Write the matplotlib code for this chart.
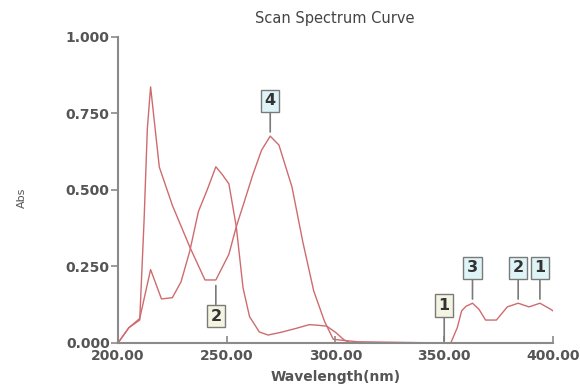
import matplotlib.pyplot as plt

# curve 1 (tall peak at 215 nm, labelled peaks/valleys)
wl_a = [200, 205, 210, 212, 213.5, 215, 219, 225, 233, 240, 245, 251, 254.4, 258, 262, 266, 270,
        274, 280, 285, 290, 295, 299, 310, 330, 350, 353, 356, 358, 360, 363, 366, 369, 374,
        379, 384, 389, 394, 399, 400]
abs_a = [0.0, 0.05, 0.075, 0.40, 0.70, 0.837, 0.575, 0.45, 0.314, 0.206, 0.206, 0.29, 0.38, 0.46,
         0.55, 0.63, 0.676, 0.647, 0.51, 0.33, 0.17, 0.07, 0.012, 0.004, 0.002, 0.0, 0.0, 0.05,
         0.105, 0.12, 0.13, 0.11, 0.075, 0.075, 0.118, 0.13, 0.118, 0.13, 0.11, 0.105]

# curve 2 (peak at 245 nm)
wl_b = [200, 205, 210, 215, 220, 225, 229, 233, 237, 241, 245, 248, 251, 254.4, 257.5, 260.5,
        265, 269, 275, 282, 288, 292, 296, 300, 304, 307, 320, 400]
abs_b = [0.0, 0.05, 0.08, 0.24, 0.144, 0.148, 0.2, 0.30, 0.43, 0.50, 0.576, 0.55, 0.52, 0.38,
         0.18, 0.086, 0.036, 0.026, 0.035, 0.048, 0.06, 0.058, 0.055, 0.035, 0.01, 0.0, 0.0, 0.0]

# peak / valley picks: (label, wavelength, abs)
peaks = [("4", 270, 0.676), ("3", 363, 0.13), ("2", 384, 0.13), ("1", 394, 0.13)]
valleys = [("2", 245, 0.206), ("1", 350, 0.0)]

yticks = [0.0, 0.25, 0.5, 0.75, 1.0]
xticks = [200, 250, 300, 350, 400]

line_col = "#cf6b6e"
axis_col = "#8a8a8a"
text_col = "#555555"

fig = plt.figure(figsize=(5.8, 3.87), dpi=100)
ax = fig.add_axes([0.2034, 0.1137, 0.75, 0.7907])

ax.plot(wl_a, abs_a, color=line_col, lw=1.0)
ax.plot(wl_b, abs_b, color=line_col, lw=1.0)

ax.set_xlim(200, 400)
ax.set_ylim(0, 1.0)
ax.set_xticks(xticks)
ax.set_xticklabels([f"{v:.2f}" for v in xticks])
ax.set_yticks(yticks)
ax.set_yticklabels([f"{v:.3f}" for v in yticks])

for side in ("top", "right"):
    ax.spines[side].set_visible(False)
for side in ("left", "bottom"):
    ax.spines[side].set_color(axis_col)
    ax.spines[side].set_linewidth(1.5)

ax.tick_params(axis="y", direction="out", length=5, width=1.2, color=axis_col,
               labelsize=10, labelcolor=text_col, pad=1)
ax.tick_params(axis="x", direction="in", length=5, width=1.2, color=axis_col,
               labelsize=10, labelcolor=text_col, pad=4)
for lbl in ax.get_xticklabels() + ax.get_yticklabels():
    lbl.set_fontweight("bold")


def pick_label(lab, x, y, dy, fc, gap):
    ax.annotate(lab, xy=(x, y), xytext=(0, dy), textcoords="offset points",
                ha="center", va="center", fontsize=11.5, fontweight="bold", color="#333333",
                bbox=dict(boxstyle="square,pad=0.22", fc=fc, ec="#7a7a7a", lw=1),
                arrowprops=dict(arrowstyle="-", color="#7a7a7a", lw=1.2, shrinkA=0, shrinkB=gap),
                annotation_clip=False)


for lab, x, y in peaks:
    pick_label(lab, x, y, 25.5, "#dff4f7", 3)
for lab, x, y in valleys:
    # a valley sitting on the baseline gets its label above the axis
    if y < 0.05:
        pick_label(lab, x, y, 27, "#f4f4e2", 1.5)
    else:
        pick_label(lab, x, y, -26, "#f4f4e2", 4)

fig.text(0.578, 0.952, "Scan Spectrum Curve", ha="center", va="center",
         fontsize=10.5, color="#444444")
fig.text(0.578, 0.025, "Wavelength(nm)", ha="center", va="center",
         fontsize=10, fontweight="bold", color=text_col)
fig.text(0.038, 0.49, "Abs", ha="center", va="center", rotation=90,
         fontsize=8, color=text_col)

fig.savefig("out.png", dpi=100)
